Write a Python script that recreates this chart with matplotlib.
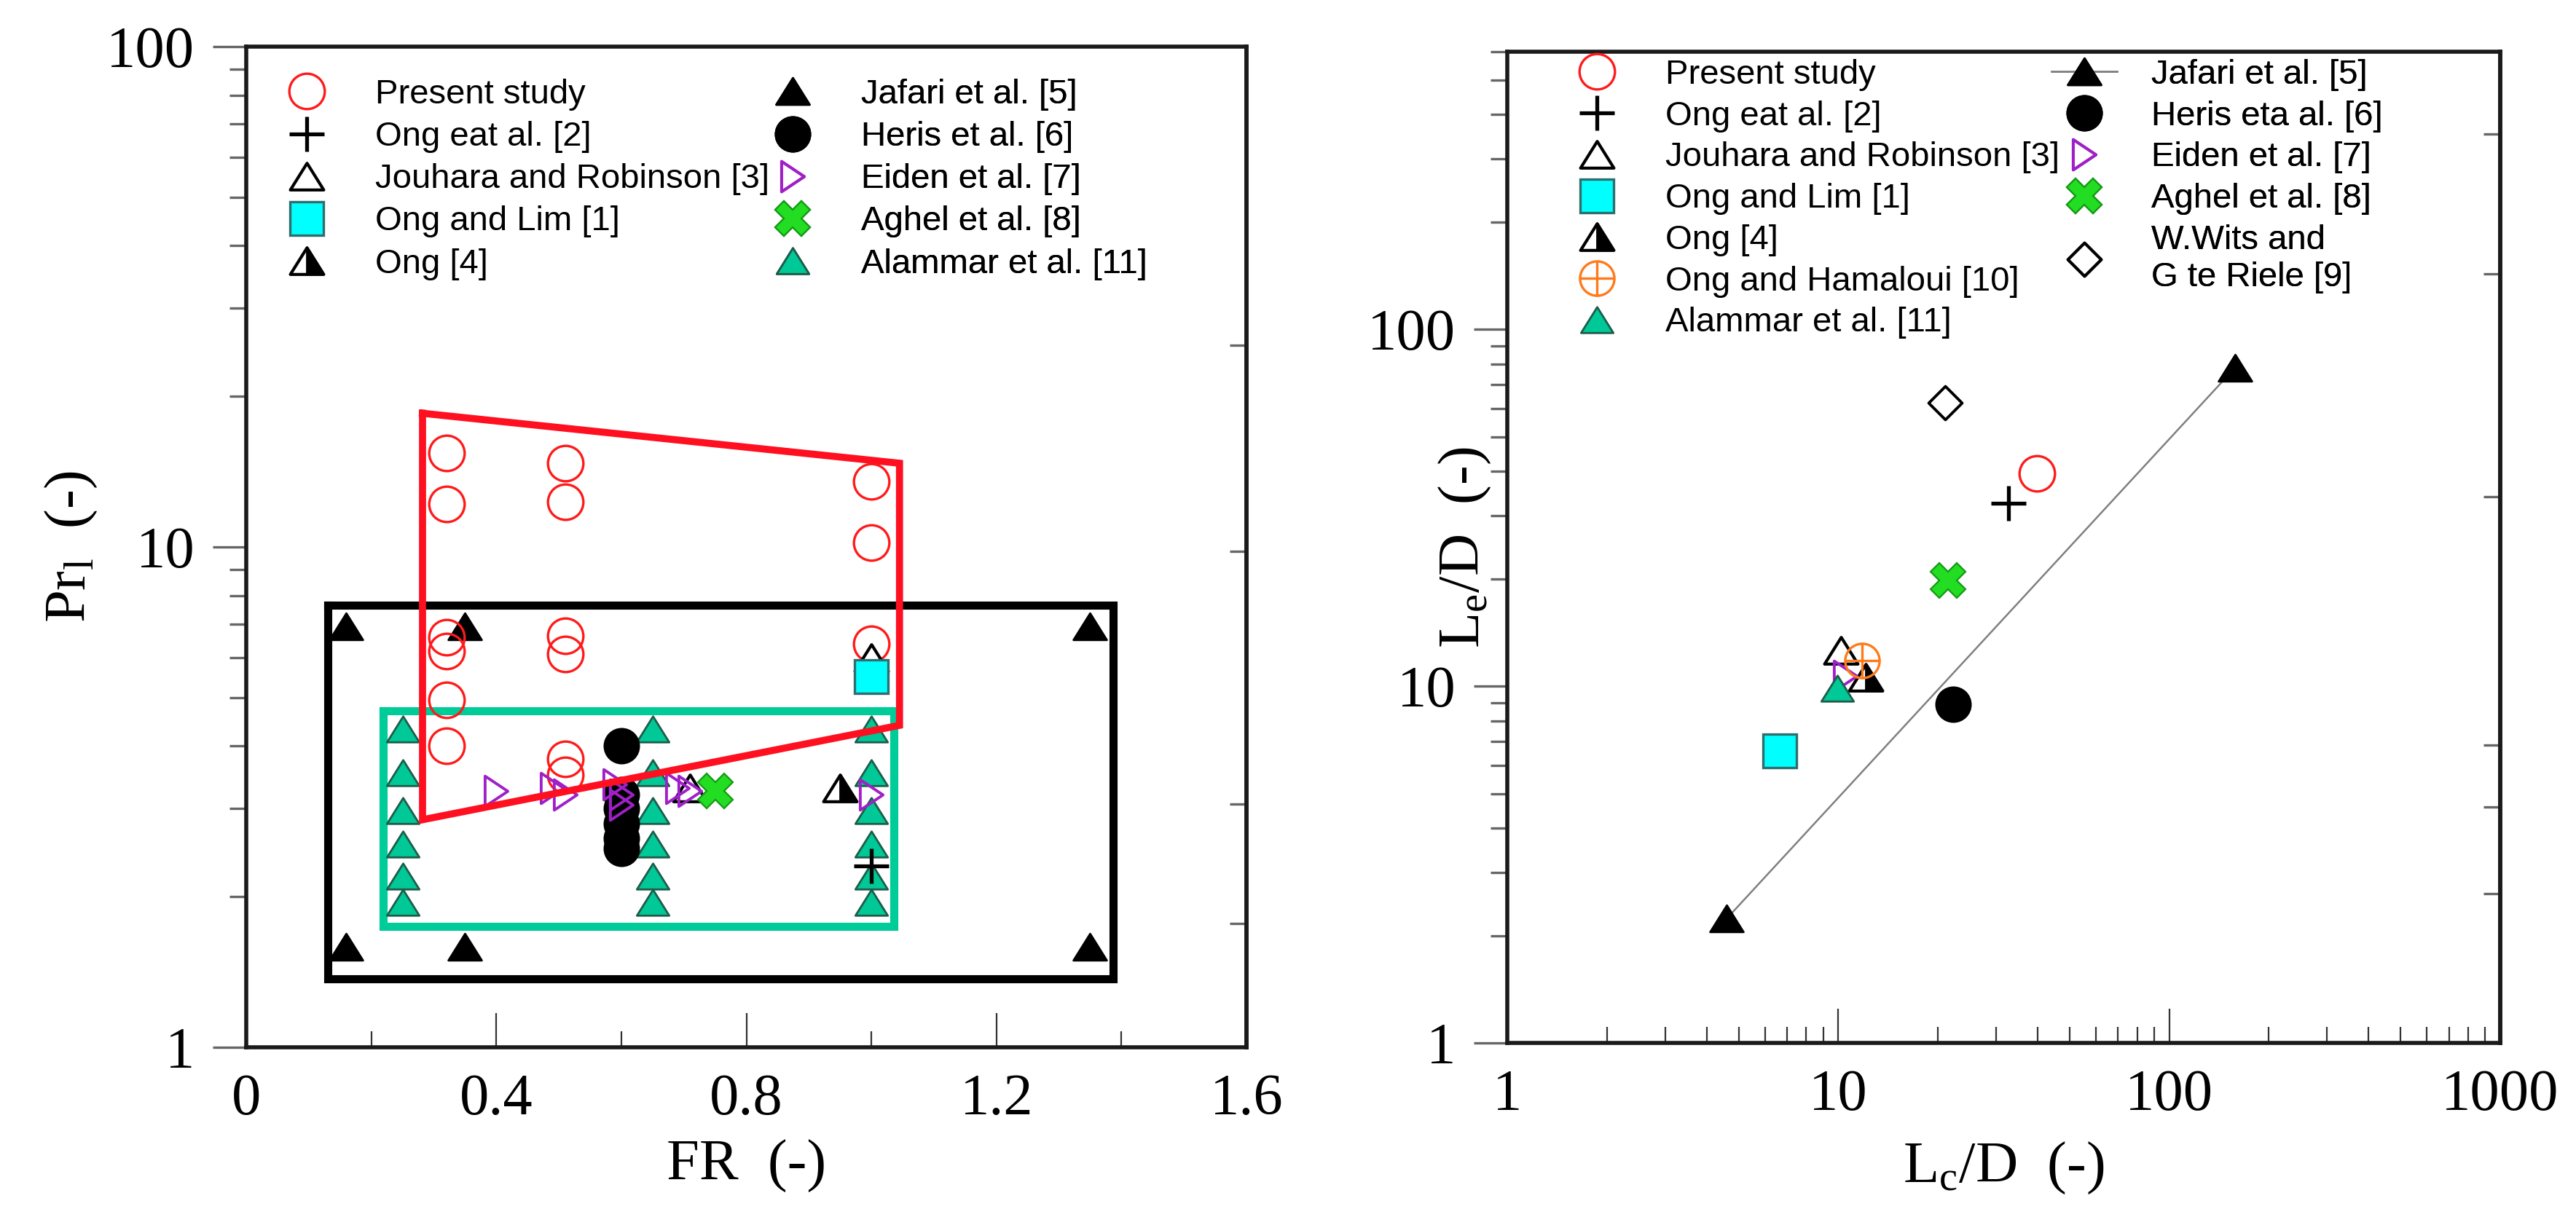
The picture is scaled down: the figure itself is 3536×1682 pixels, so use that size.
import matplotlib
matplotlib.use('Agg')
import matplotlib.pyplot as plt
from matplotlib.path import Path
from matplotlib.ticker import FixedLocator, NullFormatter, NullLocator
from matplotlib.legend_handler import HandlerTuple

# ---------------- left panel data: FR vs Pr_l ----------------
present_fr = [0.32, 0.32, 0.32, 0.32, 0.32, 0.32, 0.51, 0.51, 0.51, 0.51, 0.51, 0.51, 1.0, 1.0, 1.0]
present_pr = [15.4, 12.2, 6.6, 6.2, 4.95, 4.0, 14.7, 12.3, 6.65, 6.1, 3.77, 3.5, 13.5, 10.2, 6.4]
ong2_fr = [1.0]
ong2_pr = [2.3]
jouhara_fr = [0.71, 1.0]
jouhara_pr = [3.3, 6.0]
onglim_fr = [1.0]
onglim_pr = [5.5]
ong4_fr = [0.95]
ong4_pr = [3.3]
jafari_fr = [0.16, 0.35, 1.35, 0.16, 0.35, 1.35]
jafari_pr = [6.95, 6.95, 6.95, 1.59, 1.59, 1.59]
heris_fr = [0.6, 0.6, 0.6, 0.6, 0.6, 0.6]
heris_pr = [4.0, 3.2, 3.0, 2.8, 2.62, 2.5]
eiden_fr = [0.40, 0.49, 0.51, 0.59, 0.60, 0.60, 0.69, 0.71, 1.0]
eiden_pr = [3.25, 3.3, 3.2, 3.35, 3.2, 3.05, 3.3, 3.25, 3.2]
aghel_fr = [0.75]
aghel_pr = [3.25]
alammar_fr = [0.25, 0.25, 0.25, 0.25, 0.25, 0.25,
              0.65, 0.65, 0.65, 0.65, 0.65, 0.65,
              1.0, 1.0, 1.0, 1.0, 1.0, 1.0]
alammar_pr = [4.33, 3.54, 2.97, 2.55, 2.2, 1.95,
              4.33, 3.54, 2.97, 2.55, 2.2, 1.95,
              4.33, 3.54, 2.97, 2.55, 2.2, 1.95]

# envelopes drawn on the left panel
red_env_fr = [0.282, 1.045, 1.045, 0.282, 0.282]
red_env_pr = [18.5, 14.7, 4.4, 2.85, 18.5]
black_env_fr = [0.131, 1.387, 1.387, 0.131, 0.131]
black_env_pr = [7.65, 7.65, 1.37, 1.37, 7.65]
teal_env_fr = [0.219, 1.036, 1.036, 0.219, 0.219]
teal_env_pr = [4.70, 4.70, 1.745, 1.745, 4.70]

# ---------------- right panel data: Lc/D vs Le/D ----------------
present_lc, present_le = [39.9], [39.5]
ong2_lc, ong2_le = [32.6], [32.5]
jouhara_lc, jouhara_le = [10.2], [12.6]
onglim_lc, onglim_le = [6.67], [6.59]
ong4_lc, ong4_le = [12.1], [10.6]
hamaloui_lc, hamaloui_le = [11.8], [11.8]
alammar_lc, alammar_le = [9.95], [9.86]
jafari_lc, jafari_le = [4.6, 158.0], [2.23, 78.0]
heris_lc, heris_le = [22.2], [8.9]
eiden_lc, eiden_le = [10.5], [10.7]
aghel_lc, aghel_le = [21.5], [19.8]
wits_lc, wits_le = [21.0], [62.3]

# axis ticks
left_xticks = [0, 0.4, 0.8, 1.2, 1.6]
left_xticklabels = ['0', '0.4', '0.8', '1.2', '1.6']
left_xminor = [0.2, 0.6, 1.0, 1.4]
log_major = [1, 10, 100, 1000]
log_major_labels = ['1', '10', '100', '1000']
left_right_ticks = [1.77, 3.06, 9.8, 25.3]
right_right_ticks = [2.62, 4.59, 6.84, 34, 143, 353]

# ---------------- style ----------------
plt.rcParams['font.family'] = ['Liberation Serif', 'DejaVu Serif']
plt.rcParams['mathtext.fontset'] = 'custom'
plt.rcParams['mathtext.rm'] = 'Liberation Serif'
plt.rcParams['mathtext.it'] = 'Liberation Serif:italic'

RED = '#ff1a1a'
TEAL = '#00c896'
TEAL_E = '#1d5c4a'
CYAN = '#00ffff'
CYAN_E = '#2e6e6e'
PURPLE = '#a020c8'
GREEN = '#22dd22'
GREEN_E = '#159915'
ORANGE = '#ff7a1a'

tri_up = Path([(-1, -0.8), (1, -0.8), (0, 0.8), (-1, -0.8)], closed=True)
tri_half = Path([(0, -0.8), (1, -0.8), (0, 0.8), (0, -0.8)], closed=True)
tri_right = Path([(-0.75, -1), (0.75, 0), (-0.75, 1), (-0.75, -1)], closed=True)
diamond = Path([(0, 1), (1, 0), (0, -1), (-1, 0), (0, 1)], closed=True)
circplus = Path.make_compound_path(
    Path.unit_circle(),
    Path([(-1, 0), (1, 0), (0, -1), (0, 1)],
         [Path.MOVETO, Path.LINETO, Path.MOVETO, Path.LINETO]))

STY = {
    'present': dict(marker='o', ms=17.5, mfc='none', mec=RED, mew=1.2),
    'ong2': dict(marker='+', ms=17, mec='black', mew=1.9),
    'jouhara': dict(marker=tri_up, ms=16.5, mfc='none', mec='black', mew=1.5),
    'onglim': dict(marker='s', ms=16.5, mfc=CYAN, mec=CYAN_E, mew=1.2),
    'ong4a': dict(marker=tri_up, ms=16.5, mfc='white', mec='black', mew=1.5),
    'ong4b': dict(marker=tri_half, ms=16.5, mfc='black', mec='black', mew=1.0),
    'jafari': dict(marker=tri_up, ms=16.5, mfc='black', mec='black', mew=1.0),
    'heris': dict(marker='o', ms=17, mfc='black', mec='black', mew=1.0),
    'eiden': dict(marker=tri_right, ms=15, mfc='none', mec=PURPLE, mew=1.4),
    'aghel': dict(marker='X', ms=17, mfc=GREEN, mec=GREEN_E, mew=0.8),
    'alammar': dict(marker=tri_up, ms=16, mfc=TEAL, mec=TEAL_E, mew=1.0),
    'hamaloui': dict(marker=circplus, ms=17, mfc='none', mec=ORANGE, mew=1.2),
    'wits': dict(marker=diamond, ms=16.5, mfc='none', mec='black', mew=1.4),
}

W, H, DPI = 3536, 1682, 200
fig = plt.figure(figsize=(W / DPI, H / DPI), dpi=DPI)


def px_axes(x0, x1, y0, y1):
    return fig.add_axes([x0 / W, 1 - y1 / H, (x1 - x0) / W, (y1 - y0) / H])


ax1 = px_axes(338, 1711, 64, 1438)
ax2 = px_axes(2069, 3432, 71, 1432)


def pts(ax, x, y, key, **kw):
    return ax.plot(x, y, ls='none', **STY[key], **kw)[0]


# ---------------- left panel ----------------
ax1.plot(black_env_fr, black_env_pr, color='black', lw=4.0, zorder=1.5,
         solid_joinstyle='miter')
ax1.plot(teal_env_fr, teal_env_pr, color='#00cc99', lw=4.0, zorder=1.5,
         solid_joinstyle='miter')
hL = {}
hL['alammar'] = pts(ax1, alammar_fr, alammar_pr, 'alammar')
hL['jafari'] = pts(ax1, jafari_fr, jafari_pr, 'jafari')
hL['heris'] = pts(ax1, heris_fr, heris_pr, 'heris')
hL['present'] = pts(ax1, present_fr, present_pr, 'present')
hL['jouhara'] = pts(ax1, jouhara_fr, jouhara_pr, 'jouhara')
hL['eiden'] = pts(ax1, eiden_fr, eiden_pr, 'eiden')
a = pts(ax1, ong4_fr, ong4_pr, 'ong4a')
b = pts(ax1, ong4_fr, ong4_pr, 'ong4b')
hL['ong4'] = (a, b)
hL['onglim'] = pts(ax1, onglim_fr, onglim_pr, 'onglim')
hL['ong2'] = pts(ax1, ong2_fr, ong2_pr, 'ong2')
hL['aghel'] = pts(ax1, aghel_fr, aghel_pr, 'aghel')
ax1.plot(red_env_fr, red_env_pr, color='#ff1020', lw=3.5, zorder=3,
         solid_joinstyle='miter')

ax1.set_xlim(0, 1.6)
ax1.set_yscale('log')
ax1.set_ylim(1, 100)
ax1.set_xticks(left_xticks, labels=left_xticklabels)
ax1.xaxis.set_minor_locator(FixedLocator(left_xminor))
ax1.set_yticks(log_major[:3], labels=log_major_labels[:3])
ax1.yaxis.set_minor_locator(FixedLocator([v * d for d in (1, 10) for v in range(2, 10)]))
ax1.yaxis.set_minor_formatter(NullFormatter())

# ---------------- right panel ----------------
hR = {}
hR['jafari'] = ax2.plot(jafari_lc, jafari_le, color='#808080', lw=0.9,
                        **STY['jafari'])[0]
hR['heris'] = pts(ax2, heris_lc, heris_le, 'heris')
hR['jouhara'] = pts(ax2, jouhara_lc, jouhara_le, 'jouhara')
a = pts(ax2, ong4_lc, ong4_le, 'ong4a')
b = pts(ax2, ong4_lc, ong4_le, 'ong4b')
hR['ong4'] = (a, b)
hR['eiden'] = pts(ax2, eiden_lc, eiden_le, 'eiden')
hR['alammar'] = pts(ax2, alammar_lc, alammar_le, 'alammar')
hR['hamaloui'] = pts(ax2, hamaloui_lc, hamaloui_le, 'hamaloui')
hR['onglim'] = pts(ax2, onglim_lc, onglim_le, 'onglim')
hR['ong2'] = pts(ax2, ong2_lc, ong2_le, 'ong2')
hR['aghel'] = pts(ax2, aghel_lc, aghel_le, 'aghel')
hR['wits'] = pts(ax2, wits_lc, wits_le, 'wits')
hR['present'] = pts(ax2, present_lc, present_le, 'present')

ax2.set_xscale('log')
ax2.set_yscale('log')
ax2.set_xlim(1, 1000)
ax2.set_ylim(1, 600)
ax2.set_xticks(log_major, labels=log_major_labels)
ax2.xaxis.set_minor_locator(FixedLocator([v * d for d in (1, 10, 100) for v in range(2, 10)]))
ax2.xaxis.set_minor_formatter(NullFormatter())
ax2.set_yticks(log_major[:3], labels=log_major_labels[:3])
ax2.yaxis.set_minor_locator(FixedLocator([v * d for d in (1, 10, 100) for v in range(2, 10)
                                          if v * d <= 600]))
ax2.yaxis.set_minor_formatter(NullFormatter())

# ---------------- common axis styling ----------------
for ax, rticks in ((ax1, left_right_ticks), (ax2, right_right_ticks)):
    for s in ax.spines.values():
        s.set_linewidth(2.0)
        s.set_color('#1a1a1a')
    ax.tick_params(axis='y', which='major', direction='out', length=16.5, width=1.2,
                   color='#666666', left=True, right=False, pad=9, labelsize=29)
    ax.tick_params(axis='y', which='minor', direction='out', length=8.3, width=1.2,
                   color='#666666', left=True, right=False)
    ax.tick_params(axis='x', which='major', direction='in', length=17, width=0.8,
                   color='#333333', bottom=True, top=False, pad=13, labelsize=29)
    ax.tick_params(axis='x', which='minor', direction='in', length=8, width=0.8,
                   color='#333333', bottom=True, top=False)
    sec = ax.secondary_yaxis('right')
    sec.set_yticks(rticks)
    sec.yaxis.set_minor_locator(NullLocator())
    sec.tick_params(axis='y', which='major', direction='in', length=8.3, width=1.2,
                    color='#666666', labelright=False)
    sec.spines['right'].set_linewidth(2.0)
    sec.spines['right'].set_color('#1a1a1a')

ax1.set_xlabel('FR  (-)', fontsize=29)
ax1.xaxis.set_label_coords(0.5, -0.092)
ax1.set_ylabel('Pr$_\\mathregular{l}$  (-)', fontsize=29, va='center', ha='center')
ax1.yaxis.set_label_coords(-0.175, 0.5)

ax2.set_xlabel('L$_\\mathregular{c}$/D  (-)', fontsize=29)
ax2.xaxis.set_label_coords(0.5, -0.098)
ax2.set_ylabel('L$_\\mathregular{e}$/D  (-)', fontsize=29, va='center', ha='center')
ax2.yaxis.set_label_coords(-0.043, 0.5)

# ---------------- legends ----------------
LEG = dict(frameon=False, loc='upper left', borderpad=0, borderaxespad=0,
           prop={'family': 'Liberation Sans', 'size': 17}, numpoints=1,
           handler_map={tuple: HandlerTuple(ndivide=1, pad=0)})


def legend_col(ax, keys, labels, hdict, x, y, hl, htp, ls):
    lg = ax.legend([hdict[k] for k in keys], labels, bbox_to_anchor=(x, y),
                   handlelength=hl, handletextpad=htp, labelspacing=ls, **LEG)
    lg.set_zorder(10)
    ax.add_artist(lg)
    return lg


legend_col(ax1, ['present', 'ong2', 'jouhara', 'onglim', 'ong4'],
           ['Present study', 'Ong eat al. [2]', 'Jouhara and Robinson [3]',
            'Ong and Lim [1]', 'Ong [4]'], hL, 0.043, 0.968, 1.0, 1.5, 0.3)
legend_col(ax1, ['jafari', 'heris', 'eiden', 'aghel', 'alammar'],
           ['Jafari et al. [5]', 'Heris et al. [6]', 'Eiden et al. [7]',
            'Aghel et al. [8]', 'Alammar et al. [11]'], hL, 0.529, 0.968, 1.0, 1.5, 0.3)
legend_col(ax2, ['present', 'ong2', 'jouhara', 'onglim', 'ong4', 'hamaloui', 'alammar'],
           ['Present study', 'Ong eat al. [2]', 'Jouhara and Robinson [3]',
            'Ong and Lim [1]', 'Ong [4]', 'Ong and Hamaloui [10]', 'Alammar et al. [11]'],
           hR, 0.0727, 0.9927, 1.0, 1.5, 0.27)
legend_col(ax2, ['jafari', 'heris', 'eiden', 'aghel', 'wits'],
           ['Jafari et al. [5]', 'Heris eta al. [6]', 'Eiden et al. [7]',
            'Aghel et al. [8]', 'W.Wits and\nG te Riele [9]'],
           hR, 0.548, 0.9927, 1.9, 1.0, 0.27)

fig.savefig('out.png', dpi=DPI)
